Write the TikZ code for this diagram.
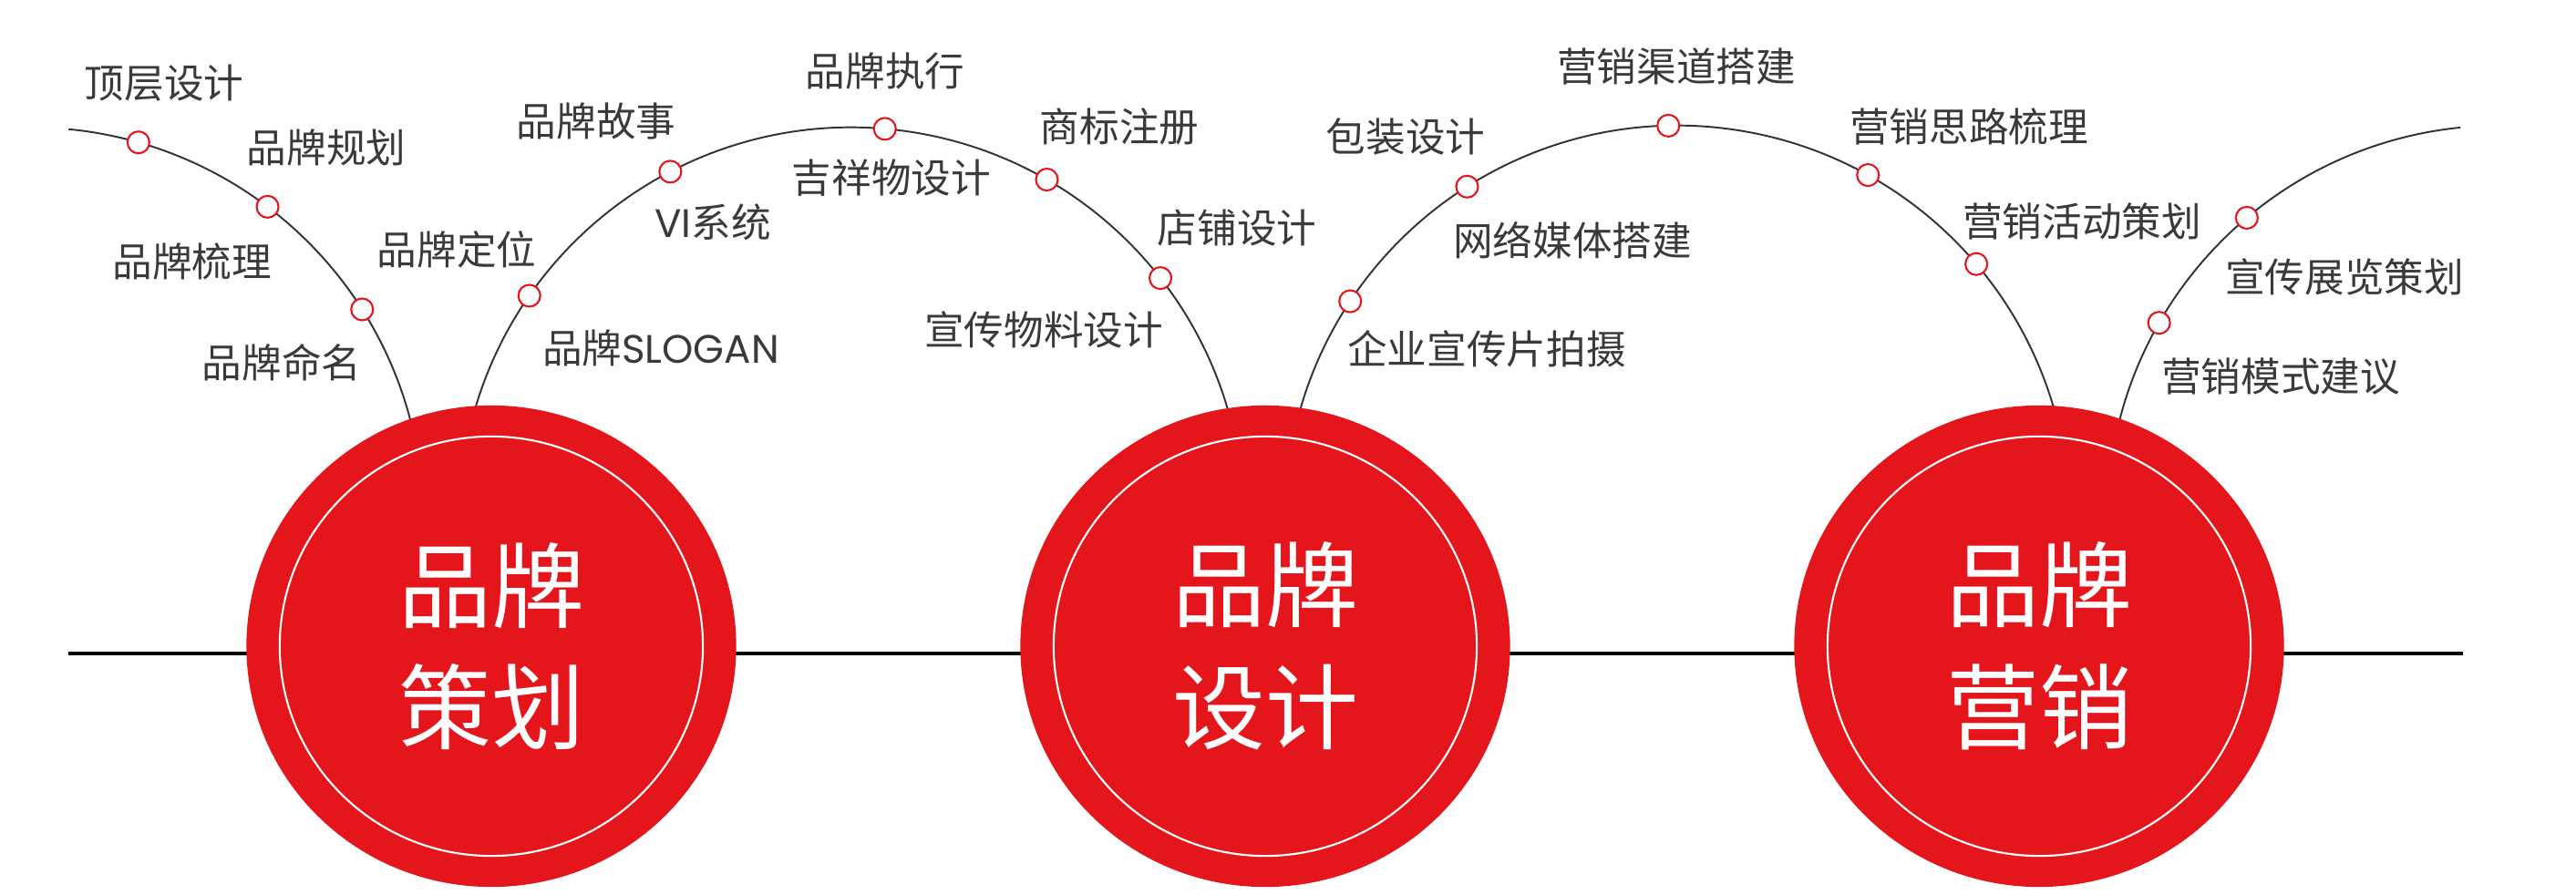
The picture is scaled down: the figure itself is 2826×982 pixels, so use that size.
\documentclass[tikz,border=0pt]{standalone}
\usepackage{fontspec}
\newfontfamily\cjk{Noto Sans CJK SC}
\newfontfamily\latn{Poppins}
\usetikzlibrary{%
  shapes.geometric,% ellipse
  positioning%
}
\definecolor{brandred}{HTML}{E4161C}
\definecolor{inkgray}{HTML}{3A3A3A}
\definecolor{bowgray}{HTML}{333333}

\begin{document}
\begin{tikzpicture}[x=0.01cm, y=-0.01cm,
  hub/.style = {ellipse, fill=brandred, minimum width=5.37cm, minimum height=5.28cm,
    inner sep=0pt, text=white, align=center,
    font=\cjk\fontsize{29}{38}\selectfont,
    path picture={\draw[white, line width=0.6pt]
      (path picture bounding box.center) ellipse [x radius=2.32cm, y radius=2.30cm];}},
  pin/.style = {circle, draw=brandred, fill=white, line width=0.6pt,
    minimum size=0.24cm, inner sep=0pt},
  tag/.style = {text=inkgray, inner sep=0pt, font=\cjk\fontsize{12.4}{14}\selectfont},
  bow/.style = {draw=bowgray, line width=0.55pt},
  axis/.style = {draw=black, line width=1.1pt}]
  \useasboundingbox (0,0) rectangle (2826,982);

  % centres of the bows
  \coordinate (a1) at (34,570);
  \coordinate (a2) at (934,570);
  \coordinate (a3) at (1840,568);
  \coordinate (a5) at (2742,568);

  % base line
  \coordinate (lstart) at (75,717);
  \coordinate (lend) at (2702,717);
  \draw[axis] (lstart) -- (lend);

  % bows
  \draw[bow] ([shift={(84.5:4.3cm)}]a1) arc [start angle=84.5, end angle=10, radius=4.3cm];
  \draw[bow] ([shift={(170:4.3cm)}]a2) arc [start angle=170, end angle=10, radius=4.3cm];
  \draw[bow] ([shift={(170:4.3cm)}]a3) arc [start angle=170, end angle=10, radius=4.3cm];
  \draw[bow] ([shift={(170:4.3cm)}]a5) arc [start angle=170, end angle=95.7, radius=4.3cm];

  % main circles
  \node[hub] (plan)   at (539,709)  {品牌\\策划};
  \node[hub] (design) at (1388,709) {品牌\\设计};
  \node[hub] (market) at (2237,709) {品牌\\营销};

  % pins on the bows
  \foreach \a/\n in {74.1/1, 52.9/2, 32.4/3}
    \node[pin] (p1\n) at ([shift={(\a:4.3cm)}]a1) {};
  \foreach \a/\n in {145.2/1, 117.5/2, 85.1/3, 60.1/4, 38/5}
    \node[pin] (p2\n) at ([shift={(\a:4.3cm)}]a2) {};
  \foreach \a/\n in {146.5/1, 122.4/2, 91.3/3, 60.9/4, 40.3/5}
    \node[pin] (p3\n) at ([shift={(\a:4.3cm)}]a3) {};
  \foreach \a/\n in {150.2/1, 130.1/2}
    \node[pin] (p5\n) at ([shift={(\a:4.3cm)}]a5) {};

  % labels
  \node[tag] (t11) at (180,91)   {顶层设计};
  \node[tag] (t12) at (358,162)  {品牌规划};
  \node[tag] (t13) at (211,287)  {品牌梳理};
  \node[tag] (t14) at (309,398)  {品牌命名};

  \node[tag] (t21) at (501,274)  {品牌定位};
  \node[tag] (t22) at (725,382)  {品牌{\latn SLOGAN}};
  \node[tag] (t23) at (782,244)  {{\latn VI}系统};
  \node[tag] (t24) at (654,133)  {品牌故事};
  \node[tag] (t25) at (971,78)   {品牌执行};
  \node[tag] (t26) at (978,195)  {吉祥物设计};
  \node[tag] (t27) at (1228,139) {商标注册};
  \node[tag] (t28) at (1357,250) {店铺设计};
  \node[tag] (t29) at (1145,362) {宣传物料设计};

  \node[tag] (t31) at (1542,150) {包装设计};
  \node[tag] (t32) at (1725,264) {网络媒体搭建};
  \node[tag] (t33) at (1631,383) {企业宣传片拍摄};
  \node[tag] (t34) at (1839,73)  {营销渠道搭建};
  \node[tag] (t35) at (2160,139) {营销思路梳理};
  \node[tag] (t36) at (2284,243) {营销活动策划};

  \node[tag] (t51) at (2572,304) {宣传展览策划};
  \node[tag] (t52) at (2502,413) {营销模式建议};
\end{tikzpicture}
\end{document}
